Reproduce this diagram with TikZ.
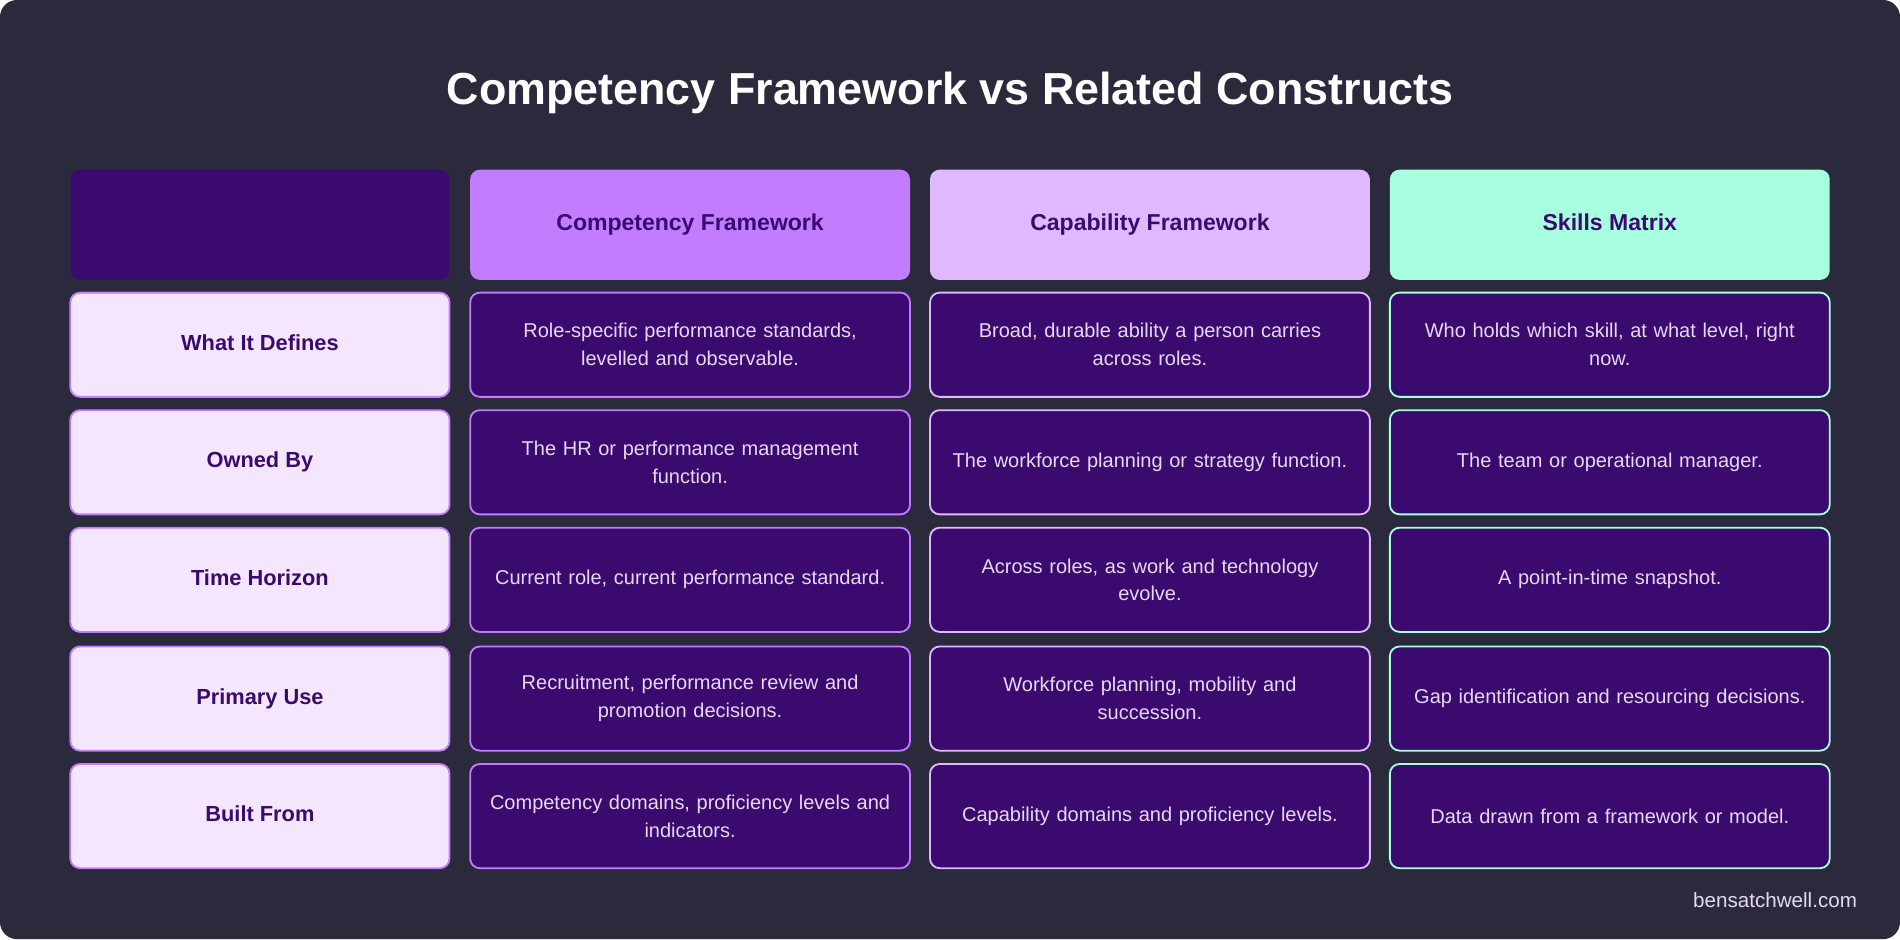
\documentclass[tikz,border=0pt]{standalone}
\usepackage{fontspec}
\setmainfont{Liberation Sans}
\usetikzlibrary{positioning}
\definecolor{pagebg}{HTML}{2B2A3C}
\definecolor{deep}{HTML}{3B0A6E}
\definecolor{violet}{HTML}{C17CFF}
\definecolor{lilac}{HTML}{E0B8FF}
\definecolor{mint}{HTML}{A8FFE0}
\definecolor{blush}{HTML}{F5E6FF}
\definecolor{celltext}{HTML}{E6D8F2}
\tikzset{
  box/.style={rounded corners=8pt, minimum height=86pt, align=center, inner sep=0pt},
  head/.style={box, minimum height=91pt, text height=14pt, text depth=4pt, text=deep, font=\fontsize{19}{23}\selectfont\bfseries},
  lbl/.style={box, minimum width=313pt, text height=13pt, text depth=4pt, fill=blush, draw=violet, line width=1.5pt, text=deep, font=\fontsize{18}{22}\selectfont\bfseries},
  cell/.style={box, minimum width=363pt, text width=355pt, fill=deep, line width=1.5pt, text=celltext, font=\fontsize{16.5}{23}\selectfont}
}
\begin{document}
\begin{tikzpicture}[x=1pt,y=1pt]
\useasboundingbox (0,0) rectangle (1568,-775);
\fill[white] (0,0) rectangle (1568,-775);
\fill[pagebg, rounded corners=14pt] (0,0) rectangle (1568,-775);
\node[text=white, font=\fontsize{37}{44}\selectfont\bfseries] (title) at (784,-77) {Competency Framework vs Related Constructs};
% header row
\node[head, minimum width=313pt, fill=deep] (h0) at (214.5,-185.5) {};
\node[head, minimum width=363pt, fill=violet] (h1) at (569.5,-185.5) {Competency Framework};
\node[head, minimum width=363pt, fill=lilac] (h2) at (949,-185.5) {Capability Framework};
\node[head, minimum width=363pt, fill=mint] (h3) at (1328.5,-185.5) {Skills Matrix};
% body rows
\foreach \y/\name/\a/\b/\c [count=\i] in {
 -284.5/What It Defines/{Role-specific performance standards,\\levelled and observable.}/{Broad, durable ability a person carries\\across roles.}/{Who holds which skill, at what level, right\\now.},
 -381.5/Owned By/{The HR or performance management\\function.}/{The workforce planning or strategy function.}/{The team or operational manager.},
 -478.5/Time Horizon/{Current role, current performance standard.}/{Across roles, as work and technology\\evolve.}/{A point-in-time snapshot.},
 -576.5/Primary Use/{Recruitment, performance review and\\promotion decisions.}/{Workforce planning, mobility and\\succession.}/{Gap identification and resourcing decisions.},
 -673.5/Built From/{Competency domains, proficiency levels and\\indicators.}/{Capability domains and proficiency levels.}/{Data drawn from a framework or model.}} {
  \node[lbl] (r\i) at (214.5,\y) {\name};
  \node[cell, draw=violet] (a\i) at (569.5,\y) {\a};
  \node[cell, draw=lilac] (b\i) at (949,\y) {\b};
  \node[cell, draw=mint] (c\i) at (1328.5,\y) {\c};
}
\node[text=celltext, font=\fontsize{17}{21}\selectfont, anchor=east] (site) at (1536,-743) {bensatchwell.com};
\end{tikzpicture}
\end{document}
